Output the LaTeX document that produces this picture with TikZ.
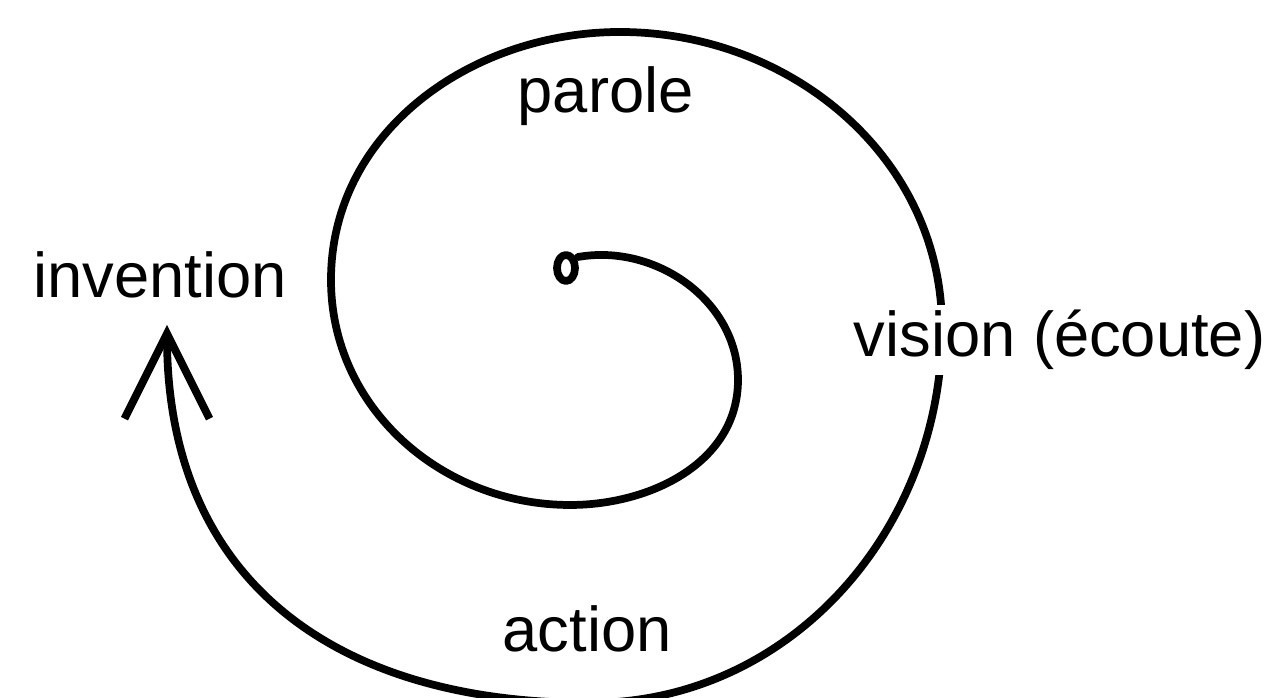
\documentclass[tikz,border=0pt]{standalone}
\usepackage{fontspec}
\setmainfont{Liberation Sans}
\usetikzlibrary{arrows.meta}
\tikzset{
  spiral/.style={line width=2.2pt,line cap=round,line join=round},
  lbl/.style={font=\fontsize{18}{21}\selectfont,inner sep=0pt,anchor=base west}
}
\begin{document}
\begin{tikzpicture}[>={Straight Barb[length=8.5mm,width=8.5mm]},x=0.01cm,y=0.01cm]
\useasboundingbox (0,0) rectangle (1284,698);
% the spiral, from the small loop outwards
\draw[spiral](566,430) ellipse [x radius=0.9mm,y radius=1.3mm];
\draw[spiral,->](578,441) to[out=10,in=90] (738,318)
 to[out=-90,in=0] (570,193) to[out=180,in=-90] (331,418)
 to[out=90,in=180] (620,666) to[out=0,in=90] (942,370)
 to[out=-90,in=0] (590,-5) to[out=180,in=-90,looseness=1.15] (167,373);
% labels
\node[lbl] (parole) at (517,585) {parole};
\node[lbl] (invention) at (33,400) {invention};
\node[lbl,fill=white,inner ysep=1.5pt] (vision) at (853,341) {vision (écoute)};
\node[lbl] (action) at (502,46) {action};
\end{tikzpicture}
\end{document}
